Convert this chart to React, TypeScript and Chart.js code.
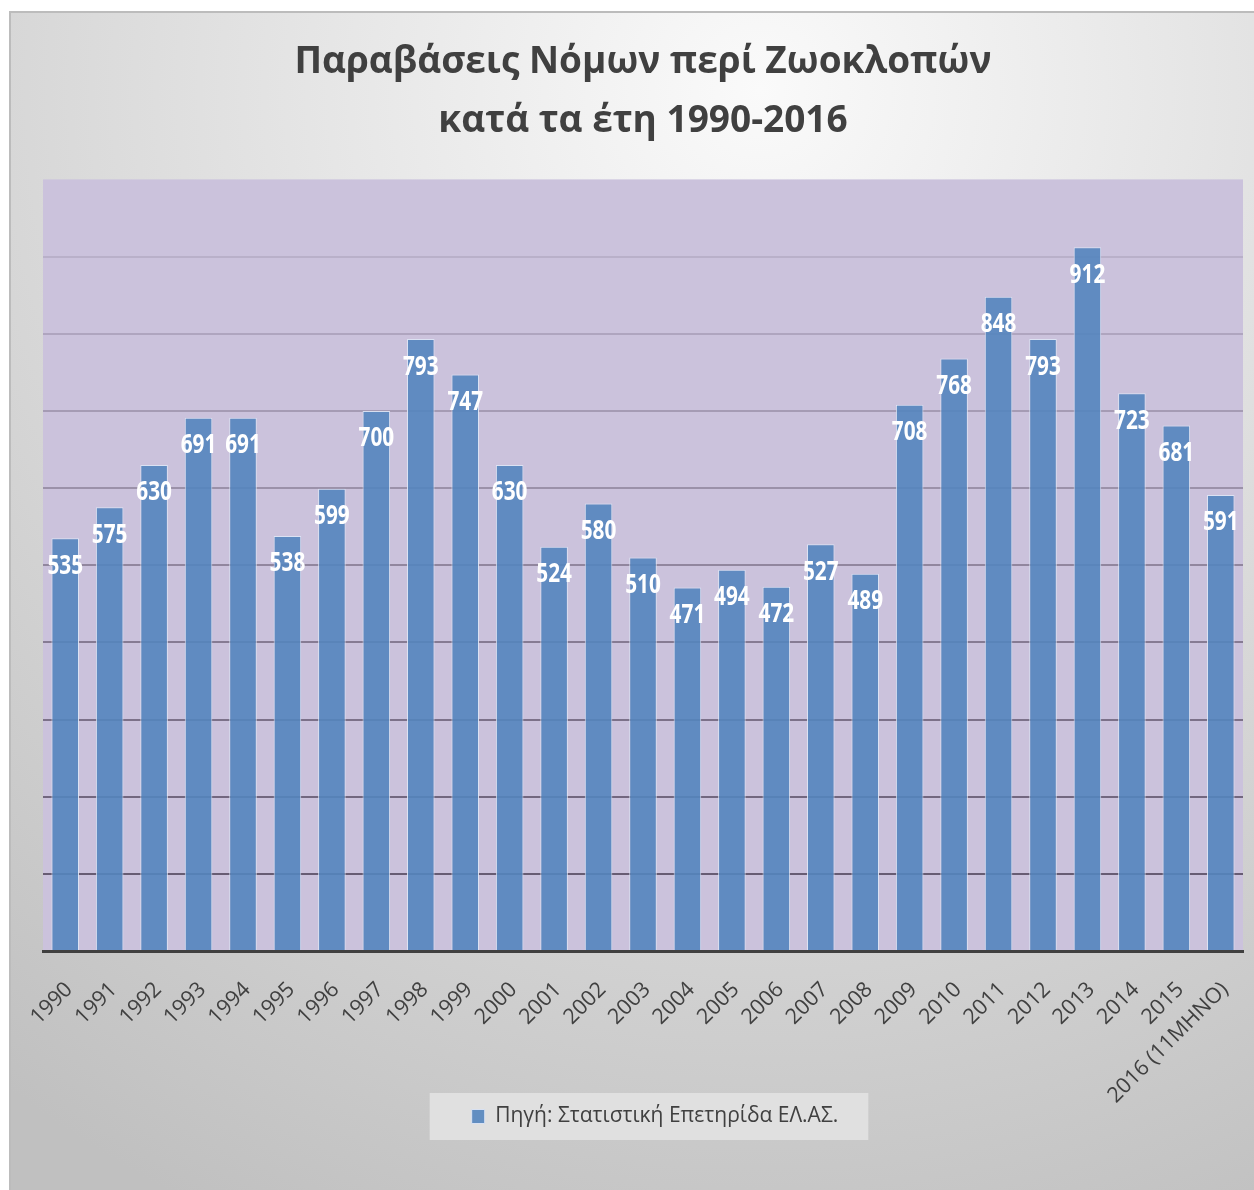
import React, { useEffect, useRef } from 'react';
import { Chart, registerables } from 'chart.js';

Chart.register(...registerables);

const TITLE_LINES = ['Παραβάσεις Νόμων περί Ζωοκλοπών', 'κατά τα έτη 1990-2016'];
const SERIES_LABEL = 'Πηγή: Στατιστική Επετηρίδα ΕΛ.ΑΣ.';
const CATEGORIES = [
  '1990', '1991', '1992', '1993', '1994', '1995', '1996', '1997', '1998', '1999',
  '2000', '2001', '2002', '2003', '2004', '2005', '2006', '2007', '2008', '2009',
  '2010', '2011', '2012', '2013', '2014', '2015', '2016 (11ΜΗΝΟ)',
];
const VALUES = [
  535, 575, 630, 691, 691, 538, 599, 700, 793, 747,
  630, 524, 580, 510, 471, 494, 472, 527, 489, 708,
  768, 848, 793, 912, 723, 681, 591,
];
const Y_MIN = 0;
const Y_MAX = 1000;
const Y_STEP = 100;

const W = 1254;
const H = 1190;
const TEXT_FONT = "'Open Sans', 'Noto Sans', sans-serif";
const LEGEND_SHIFT = 12;

const backgroundPlugin = {
  id: 'bgPlugin',
  afterLayout(chart: any) {
    const lg = chart.legend;
    if (lg) {
      lg.left += LEGEND_SHIFT;
      lg.right += LEGEND_SHIFT;
    }
    const x = chart.scales.x;
    if (x) {
      // let long rotated tick labels overflow below the axis box (no clipping)
      x.bottom += 60;
    }
  },
  beforeDraw(chart: any) {
    const ctx = chart.ctx as CanvasRenderingContext2D;
    ctx.save();
    ctx.fillStyle = '#ffffff';
    ctx.fillRect(0, 0, W, H);
    const g = ctx.createRadialGradient(760, 90, 0, 760, 90, 1250);
    g.addColorStop(0, '#fafafa');
    g.addColorStop(1, '#c0c0c0');
    ctx.fillStyle = g;
    ctx.fillRect(10, 12, W - 10, H - 12);
    ctx.strokeStyle = '#bcbcbc';
    ctx.lineWidth = 2;
    ctx.beginPath();
    ctx.moveTo(10, H);
    ctx.lineTo(10, 12);
    ctx.lineTo(W, 12);
    ctx.stroke();
    const a = chart.chartArea;
    ctx.fillStyle = '#cbc2dc';
    ctx.fillRect(a.left, a.top, a.right - a.left, a.bottom - a.top);
    const lg = chart.legend;
    if (lg && lg.legendHitBoxes && lg.legendHitBoxes.length) {
      const hb = lg.legendHitBoxes[0];
      ctx.fillStyle = '#e0e0e0';
      ctx.fillRect(hb.left + LEGEND_SHIFT - 54, lg.top - 3, hb.width + 72, lg.height + 6);
    }
    ctx.restore();
  },
};

const barLabelPlugin = {
  id: 'barLabelPlugin',
  afterDatasetsDraw(chart: any) {
    const ctx = chart.ctx as CanvasRenderingContext2D;
    const meta = chart.getDatasetMeta(0);
    ctx.save();
    ctx.font = `bold 26px ${TEXT_FONT}`;
    ctx.fillStyle = '#ffffff';
    ctx.textAlign = 'center';
    ctx.textBaseline = 'middle';
    meta.data.forEach((bar: any, i: number) => {
      ctx.save();
      ctx.translate(bar.x, bar.y + 28);
      ctx.scale(0.8, 1);
      ctx.fillText(String(VALUES[i]), 0, 0);
      ctx.restore();
    });
    ctx.restore();
  },
};

export default function App() {
  const ref = useRef<HTMLCanvasElement | null>(null);

  useEffect(() => {
    if (!ref.current) return;
    const chart = new Chart(ref.current, {
      type: 'bar',
      data: {
        labels: CATEGORIES,
        datasets: [
          {
            label: SERIES_LABEL,
            data: VALUES,
            backgroundColor: 'rgba(84,133,190,0.9)',
            borderColor: 'rgba(222,230,245,0.9)',
            borderWidth: 1,
            categoryPercentage: 1,
            barPercentage: 0.62,
          },
        ],
      },
      options: {
        responsive: false,
        animation: false,
        layout: { padding: { left: 43, right: 11, top: 0, bottom: 53 } },
        plugins: {
          title: {
            display: true,
            text: TITLE_LINES,
            color: '#404040',
            font: { family: TEXT_FONT, size: 37, weight: 'bold', lineHeight: 1.6 },
            padding: { top: 33, bottom: 28 },
          },
          legend: {
            position: 'bottom',
            labels: {
              boxWidth: 13,
              boxHeight: 14,
              color: '#404040',
              font: { family: TEXT_FONT, size: 21 },
              padding: 10,
            },
          },
          tooltip: { enabled: false },
        },
        scales: {
          x: {
            grid: { display: false, drawTicks: false },
            border: { display: true, color: '#404040', width: 3 },
            ticks: {
              color: '#404040',
              font: { family: TEXT_FONT, size: 21.5 },
              minRotation: 45,
              maxRotation: 45,
              autoSkip: false,
              padding: 26,
              labelOffset: 4,
            },
            afterFit(scale: any) {
              scale.height = 145;
              scale.paddingLeft = 0;
              scale.paddingRight = 0;
            },
          },
          y: {
            min: Y_MIN,
            max: Y_MAX,
            ticks: { display: false, stepSize: Y_STEP },
            border: { display: false },
            grid: {
              drawTicks: false,
              lineWidth: 2,
              color: (c: any) => {
                const v = c.tick ? c.tick.value : 0;
                if (v >= Y_MAX || v <= Y_MIN) return 'rgba(0,0,0,0)';
                const a = 0.75 - ((v - 100) / 800) * 0.62;
                return `rgba(70,58,80,${a.toFixed(3)})`;
              },
            },
          },
        },
      },
      plugins: [backgroundPlugin, barLabelPlugin],
    });
    return () => chart.destroy();
  }, []);

  return (
    <div style={{ position: 'absolute', left: 0, top: 0, width: W, height: H }}>
      <canvas ref={ref} width={W} height={H} style={{ width: W, height: H, display: 'block' }} />
    </div>
  );
}
